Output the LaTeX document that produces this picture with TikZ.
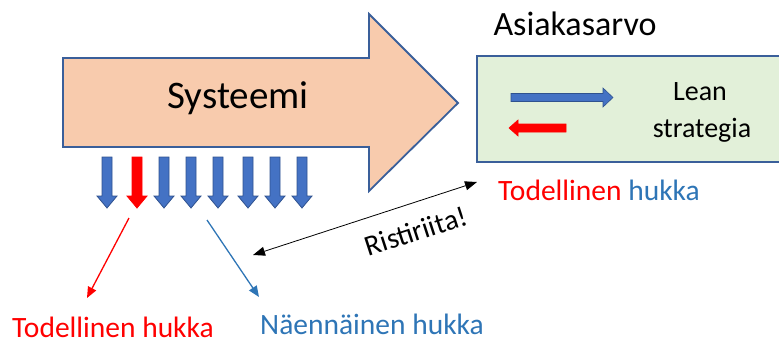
\documentclass[tikz,border=0pt]{standalone}
\usepackage{fontspec}
\setmainfont{Carlito}
\usetikzlibrary{arrows.meta}

\definecolor{peach}{HTML}{F8CBAD}
\definecolor{frame}{HTML}{3A5F9A}
\definecolor{leangreen}{HTML}{E2F0D9}
\definecolor{wasteblue}{HTML}{4472C4}
\definecolor{wasteedge}{HTML}{2F528F}
\definecolor{textblue}{HTML}{2E75B6}

\begin{document}
\begin{tikzpicture}[x=1pt,y=-1pt,
  outline/.style={draw=frame,line width=1.8pt,line join=miter},
  txt/.style={inner sep=0pt,anchor=base},
  tip/.style={-{Triangle[length=11pt,width=9pt]}}]
  \useasboundingbox (0,0) rectangle (779,340);

  % the system
  \draw[outline,fill=peach] (63,58) -- (369,58) -- (369,14) -- (458,103)
    -- (369,191) -- (369,147) -- (63,147) -- cycle;
  \node[txt] (sys) at (238,108) {\fontsize{39}{44}\selectfont Systeemi};

  % waste leaving the system
  \foreach \x/\c/\o in {107/wasteblue/wasteedge,137/red/red,164/wasteblue/wasteedge,
      191/wasteblue/wasteedge,218/wasteblue/wasteedge,248/wasteblue/wasteedge,
      275/wasteblue/wasteedge,302/wasteblue/wasteedge}
    \draw[draw=\o,fill=\c,line width=0.8pt] (\x-5,157) -- (\x+5,157) -- (\x+5,196)
      -- (\x+10,196) -- (\x,208) -- (\x-10,196) -- (\x-5,196) -- cycle;

  % customer value
  \node[txt] (value) at (575,35) {\fontsize{34}{40}\selectfont Asiakasarvo};
  \node[outline,fill=leangreen,minimum width=306pt,minimum height=106pt,
    anchor=north west,inner sep=0pt] (box) at (476,55) {};
  \draw[draw=wasteedge,fill=wasteblue,line width=0.6pt] (511,93.5) -- (603,93.5)
    -- (603,88) -- (613,97.5) -- (603,107) -- (603,101.5) -- (511,101.5) -- cycle;
  \draw[draw=red,fill=red,line width=0.6pt] (566,124) -- (518,124) -- (518,120)
    -- (509,128) -- (518,136) -- (518,132) -- (566,132) -- cycle;
  \node[txt] (lean) at (700,100) {\fontsize{28}{32}\selectfont Lean};
  \node[txt] (strat) at (702,137) {\fontsize{28}{32}\selectfont strategia};
  \node[txt,anchor=base west] (real) at (498,200)
    {\fontsize{29.5}{34}\selectfont\textcolor{red}{Todellinen} \textcolor{textblue}{hukka}};

  % the two kinds of waste
  \coordinate (rA) at (129,218);
  \coordinate (rB) at (87,298);
  \coordinate (bA) at (207,220);
  \coordinate (bB) at (259,297);
  \draw[tip,red,line width=1.3pt] (rA) -- (rB);
  \draw[tip,textblue,line width=1.3pt] (bA) -- (bB);
  \node[txt,anchor=base west,text=red] (todel) at (12,337)
    {\fontsize{29.5}{34}\selectfont Todellinen hukka};
  \node[txt,anchor=base west,text=textblue] (naenn) at (260,334)
    {\fontsize{29.5}{34}\selectfont Näennäinen hukka};

  % conflict
  \coordinate (cA) at (253,255);
  \coordinate (cB) at (477,182);
  \draw[{Triangle[length=12pt,width=9pt]}-{Triangle[length=12pt,width=9pt]},line width=0.8pt]
    (cA) -- (cB);
  \node[inner sep=0pt,rotate=18] (conflict) at (416,231)
    {\fontsize{29}{34}\selectfont Ristiriita!};
\end{tikzpicture}
\end{document}
